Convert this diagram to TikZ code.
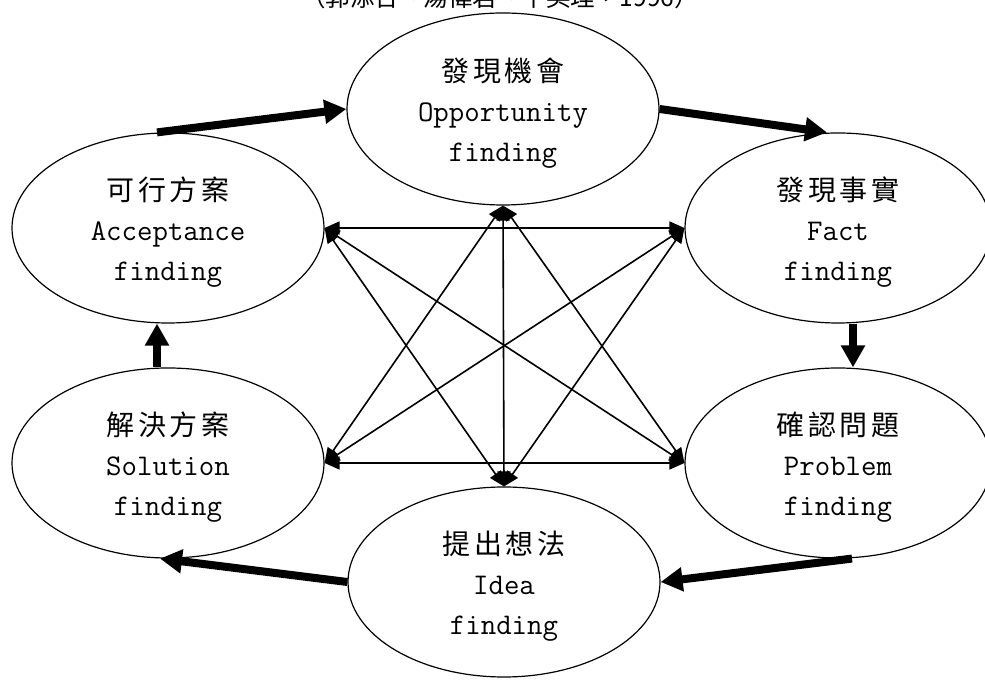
\documentclass[tikz,border=0pt]{standalone}
\usepackage{fontspec}
\usetikzlibrary{shapes.geometric,arrows.meta}
\newfontfamily\cjk[LetterSpace=12]{Noto Sans CJK TC}
\newfontfamily\cjkplain{Noto Sans CJK TC}

\tikzset{
  oval/.style={draw, ellipse, line width=1.2pt, inner sep=0pt,
               minimum width=312pt, minimum height=190pt},
  cjktext/.style={anchor=base, inner sep=0pt, font=\cjk\fontsize{28}{34}\selectfont},
  lattext/.style={anchor=base, inner sep=0pt, font=\ttfamily\fontsize{30}{36}\selectfont},
  citetext/.style={anchor=base, inner sep=0pt, font=\cjkplain\fontsize{24.5}{30}\selectfont},
  cycle arrow/.style={line width=8pt, -{Triangle[length=22pt,width=23pt]}},
  link/.style={line width=1.6pt,
               {Triangle[length=15pt,width=13pt]}-{Triangle[length=15pt,width=13pt]}}
}

% three centred lines of text inside an oval
\newcommand\ovaltext[4]{%
  \node[cjktext] (#1-a) at ([yshift=27pt]#1.center) {#2};
  \node[lattext] (#1-b) at ([yshift=-13pt]#1.center) {#3};
  \node[lattext] (#1-c) at ([yshift=-53pt]#1.center) {#4};
}

\begin{document}
\begin{tikzpicture}[x=1pt, y=1pt]
  \useasboundingbox (0,0) rectangle (985,682);

  % source line, cut by the top edge
  \node[citetext] (src) at (500,675) {（郭添合、湯偉君、牛英理，1996）};

  % the six stages
  \node[oval, minimum height=192pt] (opp) at (503,573) {};
  \node[oval, minimum width=306pt]  (fact) at (838,454) {};
  \node[oval, minimum width=306pt]  (prob) at (838,219) {};
  \node[oval] (idea) at (504,100) {};
  \node[oval] (sol)  at (168,219) {};
  \node[oval] (acc)  at (168,454) {};

  \ovaltext{opp}{發現機會}{Opportunity}{finding}
  \ovaltext{fact}{發現事實}{Fact}{finding}
  \ovaltext{prob}{確認問題}{Problem}{finding}
  \ovaltext{idea}{提出想法}{Idea}{finding}
  \ovaltext{sol}{解決方案}{Solution}{finding}
  \ovaltext{acc}{可行方案}{Acceptance}{finding}

  % main cycle
  \draw[cycle arrow] ([xshift=-11pt]acc.north) -- (opp.west);
  \draw[cycle arrow] (opp.east) -- ([xshift=-11pt]fact.north);
  \draw[cycle arrow] ([xshift=15pt]fact.south) -- ([xshift=15pt]prob.north);
  \draw[cycle arrow] ([xshift=14pt]prob.south) -- (idea.east);
  \draw[cycle arrow] (idea.west) -- ([xshift=-8pt]sol.south);
  \draw[cycle arrow] ([xshift=-11pt]sol.north) -- ([xshift=-11pt]acc.south);

  % two-way links between the other stages
  \draw[link] (opp.south) -- (idea.north);
  \draw[link] (opp.south) -- (prob.west);
  \draw[link] (opp.south) -- (sol.east);
  \draw[link] (fact.west) -- (acc.east);
  \draw[link] (fact.west) -- (sol.east);
  \draw[link] (fact.west) -- (idea.north);
  \draw[link] (prob.west) -- (sol.east);
  \draw[link] (prob.west) -- (acc.east);
  \draw[link] (idea.north) -- (acc.east);
\end{tikzpicture}
\end{document}
